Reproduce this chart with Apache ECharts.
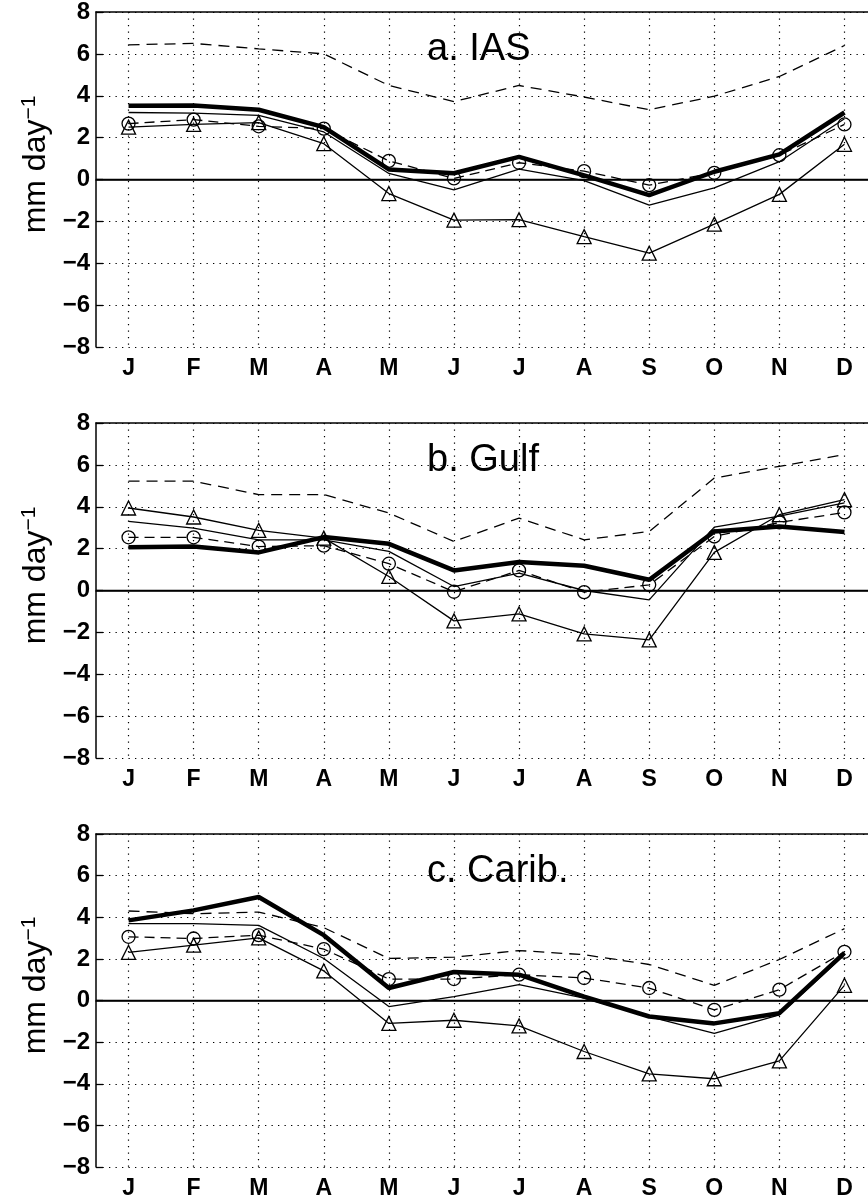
<!DOCTYPE html>
<html>
<head>
<meta charset="utf-8">
<script src="https://cdn.jsdelivr.net/npm/echarts@6/dist/echarts.min.js"></script>
<style>
  html, body { margin: 0; padding: 0; background: #fff; overflow: hidden; }
  #chart { width: 877px; height: 1200px; }
</style>
</head>
<body>
<div id="chart"></div>
<script>
// 月份
const months = ['J', 'F', 'M', 'A', 'M', 'J', 'J', 'A', 'S', 'O', 'N', 'D']
const panelTitles = ['a. IAS', 'b. Gulf', 'c. Carib.']

// a. IAS
const iasThick = [3.52, 3.54, 3.33, 2.5, 0.48, 0.3, 1.08, 0.2, -0.75, 0.37, 1.2, 3.2]
const iasThin = [3.2, 3.17, 3.06, 2.27, 0.29, -0.5, 0.5, -0.05, -1.22, -0.4, 0.85, 2.9]
const iasCircle = [2.67, 2.86, 2.54, 2.43, 0.89, 0.05, 0.8, 0.4, -0.27, 0.32, 1.16, 2.63]
const iasTriangle = [2.5, 2.63, 2.72, 1.71, -0.67, -1.94, -1.92, -2.73, -3.52, -2.13, -0.71, 1.68]
const iasDashed = [6.43, 6.5, 6.24, 6.0, 4.49, 3.72, 4.49, 3.94, 3.33, 3.98, 4.92, 6.4]

// b. Gulf
const gulfThick = [2.07, 2.1, 1.82, 2.55, 2.23, 0.96, 1.36, 1.18, 0.51, 2.82, 3.06, 2.79]
const gulfThin = [3.3, 2.98, 2.42, 2.42, 1.87, 0.19, 0.83, 0.0, -0.45, 3.03, 3.55, 4.18]
const gulfCircle = [2.54, 2.54, 2.1, 2.14, 1.28, -0.06, 0.96, -0.08, 0.27, 2.58, 3.25, 3.73]
const gulfTriangle = [3.94, 3.51, 2.87, 2.5, 0.67, -1.45, -1.12, -2.07, -2.36, 1.82, 3.62, 4.34]
const gulfDashed = [5.22, 5.22, 4.58, 4.58, 3.7, 2.34, 3.46, 2.42, 2.82, 5.37, 5.93, 6.49]

// c. Carib.
const caribThick = [3.85, 4.33, 4.97, 3.14, 0.6, 1.37, 1.24, 0.19, -0.77, -1.1, -0.61, 2.29]
const caribThin = [3.69, 3.69, 3.61, 2.02, -0.29, 0.19, 0.76, 0.11, -0.77, -1.58, -0.69, 2.2]
const caribCircle = [3.06, 2.98, 3.14, 2.47, 1.03, 1.03, 1.24, 1.08, 0.6, -0.45, 0.52, 2.34]
const caribTriangle = [2.31, 2.66, 3.01, 1.42, -1.1, -0.95, -1.22, -2.45, -3.53, -3.76, -2.9, 0.73]
const caribDashed = [4.3, 4.17, 4.25, 3.5, 2.02, 2.08, 2.4, 2.2, 1.73, 0.73, 1.97, 3.45]

const panels = [
  [iasThick, iasThin, iasCircle, iasTriangle, iasDashed],
  [gulfThick, gulfThin, gulfCircle, gulfTriangle, gulfDashed],
  [caribThick, caribThin, caribCircle, caribTriangle, caribDashed]
]

const gridTops = [12, 423, 834]
const gridHeight = 335
const font = 'Liberation Sans, Arial, Helvetica, sans-serif'
const dotted = [1.3, 5.2]

let myChart = echarts.init(document.getElementById('chart'), null, { renderer: 'canvas' })

const grids = []
const xAxes = []
const yAxes = []
const titles = []
const series = []

gridTops.forEach((top, i) => {
  grids.push({ left: 96, top: top, width: 781, height: gridHeight })

  titles.push({
    text: panelTitles[i],
    left: 422,
    top: top + 14,
    textStyle: { fontFamily: font, fontSize: 38, fontWeight: 'normal', color: '#000' }
  })

  // 下方坐标轴（带标签）
  xAxes.push({
    type: 'category',
    gridIndex: i,
    data: months,
    boundaryGap: true,
    axisLine: { lineStyle: { color: '#000', width: 1.5 } },
    axisTick: { inside: true, alignWithLabel: true, length: 7, lineStyle: { color: '#000', width: 1.3 } },
    axisLabel: { color: '#000', fontFamily: font, fontSize: 23, fontWeight: 'bold', margin: 10 },
    splitLine: { show: true, alignWithLabel: true, lineStyle: { color: '#000', width: 1.2, type: dotted } }
  })
  // 上方坐标轴（只有刻度）
  xAxes.push({
    type: 'category',
    gridIndex: i,
    position: 'top',
    data: months,
    boundaryGap: true,
    axisLine: { lineStyle: { color: '#000', width: 1.5 } },
    axisTick: { inside: true, alignWithLabel: true, length: 7, lineStyle: { color: '#000', width: 1.3 } },
    axisLabel: { show: false },
    splitLine: { show: false }
  })

  yAxes.push({
    type: 'value',
    gridIndex: i,
    min: -8,
    max: 8,
    interval: 2,
    name: '{n|mm day}{s|−1}',
    nameLocation: 'middle',
    nameGap: 41,
    nameTextStyle: {
      padding: [0, 0, 0, 30],
      rich: {
        n: { fontFamily: font, fontSize: 32, color: '#000' },
        s: { fontFamily: font, fontSize: 21, color: '#000', verticalAlign: 'top', padding: [0, 0, 14, 0] }
      }
    },
    axisLine: { show: true, lineStyle: { color: '#000', width: 1.5 } },
    axisTick: { show: true, inside: true, length: 7, lineStyle: { color: '#000', width: 1.3 } },
    axisLabel: {
      color: '#000', fontFamily: font, fontSize: 24, fontWeight: 'bold', margin: 6,
      formatter: (v) => (v < 0 ? '−' + (-v) : String(v))
    },
    splitLine: { show: true, lineStyle: { color: '#000', width: 1.2, type: dotted } }
  })

  const [thick, thin, circ, tri, dash] = panels[i]
  const base = { type: 'line', xAxisIndex: i * 2, yAxisIndex: i, silent: true }

  series.push({
    ...base, data: thick, showSymbol: false, z: 5,
    lineStyle: { color: '#000', width: 4.5 },
    // 零线
    markLine: {
      silent: true, symbol: 'none', label: { show: false },
      lineStyle: { color: '#000', width: 1.3, type: 'solid' },
      data: [{ yAxis: 0 }]
    }
  })
  series.push({ ...base, data: thin, showSymbol: false, lineStyle: { color: '#000', width: 1.3 } })
  series.push({
    ...base, data: circ, symbol: 'circle', symbolSize: 13,
    itemStyle: { color: 'rgba(0,0,0,0)', borderColor: '#000', borderWidth: 1.3 },
    lineStyle: { color: '#000', width: 1.3, type: [10, 6] }
  })
  series.push({
    ...base, data: tri, symbol: 'triangle', symbolSize: 14,
    itemStyle: { color: 'rgba(0,0,0,0)', borderColor: '#000', borderWidth: 1.3 },
    lineStyle: { color: '#000', width: 1.3 }
  })
  series.push({ ...base, data: dash, showSymbol: false, lineStyle: { color: '#000', width: 1.3, type: [11, 7] } })
})

let option = {
  animation: false,
  backgroundColor: '#fff',
  title: titles,
  grid: grids,
  xAxis: xAxes,
  yAxis: yAxes,
  series: series
}
option && myChart.setOption(option)
</script>
</body>
</html>
